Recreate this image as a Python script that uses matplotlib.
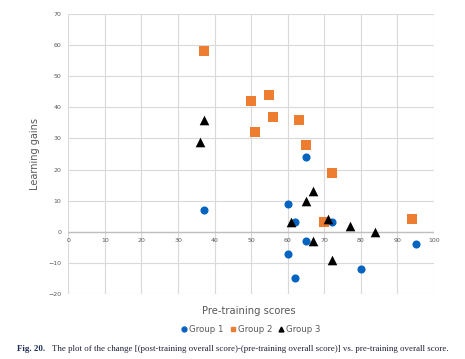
import matplotlib
matplotlib.use("Agg")
import matplotlib.pyplot as plt
from matplotlib.lines import Line2D

# Data
g1_x = [37, 65, 60, 62, 72, 65, 60, 62, 80, 95]
g1_y = [7, 24, 9, 3, 3, -3, -7, -15, -12, -4]
g2_x = [37, 50, 55, 56, 51, 63, 65, 72, 70, 94]
g2_y = [58, 42, 44, 37, 32, 36, 28, 19, 3, 4]
g3_x = [37, 36, 67, 65, 61, 71, 77, 84, 67, 72]
g3_y = [36, 29, 13, 10, 3, 4, 2, 0, -3, -9]

x_ticks = [0, 10, 20, 30, 40, 50, 60, 70, 80, 90, 100]
y_ticks = [-20, -10, 0, 10, 20, 30, 40, 50, 60, 70]
series_names = ["Group 1", "Group 2", "Group 3"]

blue = "#0563C1"
orange = "#ED7D31"
black = "#000000"
grid_c = "#D9D9D9"
text_c = "#595959"

fig = plt.figure(figsize=(4.65, 3.59), dpi=100)
ax = fig.add_axes([0.147, 0.181, 0.786, 0.780])

ax.set_xlim(0, 100)
ax.set_ylim(-20, 70)
ax.set_xticks(x_ticks)
ax.set_yticks(y_ticks)
ax.grid(True, color=grid_c, linewidth=0.8)
ax.set_axisbelow(True)
for s in ax.spines.values():
    s.set_visible(False)
ax.axhline(0, color="#BFBFBF", linewidth=1.0, zorder=1)

ax.scatter(g1_x, g1_y, s=34, marker="o", color=blue, zorder=3, linewidths=0)
ax.scatter(g2_x, g2_y, s=42, marker="s", color=orange, zorder=3, linewidths=0)
ax.scatter(g3_x, g3_y, s=48, marker="^", color=black, zorder=4, linewidths=0)

ax.tick_params(axis="both", length=0, labelsize=4.5, labelcolor=text_c)
ax.set_xticklabels([])
for t in x_ticks:
    ax.text(t, -2.0, str(t), ha="center", va="top", fontsize=4.5, color=text_c)
ax.tick_params(axis="y", pad=5)

ax.set_ylabel("Learning gains", fontsize=7, color=text_c, labelpad=6)
fig.text(0.535, 0.133, "Pre-training scores", ha="center", va="center",
         fontsize=7.2, color=text_c)

handles = [
    Line2D([], [], marker="o", linestyle="none", color=blue, markersize=3.5),
    Line2D([], [], marker="s", linestyle="none", color=orange, markersize=3.5),
    Line2D([], [], marker="^", linestyle="none", color=black, markersize=3.5),
]
leg = fig.legend(handles, series_names, loc="center", bbox_to_anchor=(0.54, 0.081),
                 ncol=3, frameon=False, fontsize=6.2, handletextpad=0.25,
                 columnspacing=0.8, handlelength=0.6)
for t in leg.get_texts():
    t.set_color(text_c)

fig.text(0.037, 0.028, "Fig. 20.", fontsize=6.4, fontweight="bold",
         family="Liberation Serif", color="#1F2D5A", ha="left", va="center")
fig.text(0.112, 0.028,
         "The plot of the change [(post-training overall score)-(pre-training overall score)] vs. pre-training overall score.",
         fontsize=6.4, family="Liberation Serif", color="#1F1F3A", ha="left", va="center")

fig.savefig("out.png", dpi=100)
